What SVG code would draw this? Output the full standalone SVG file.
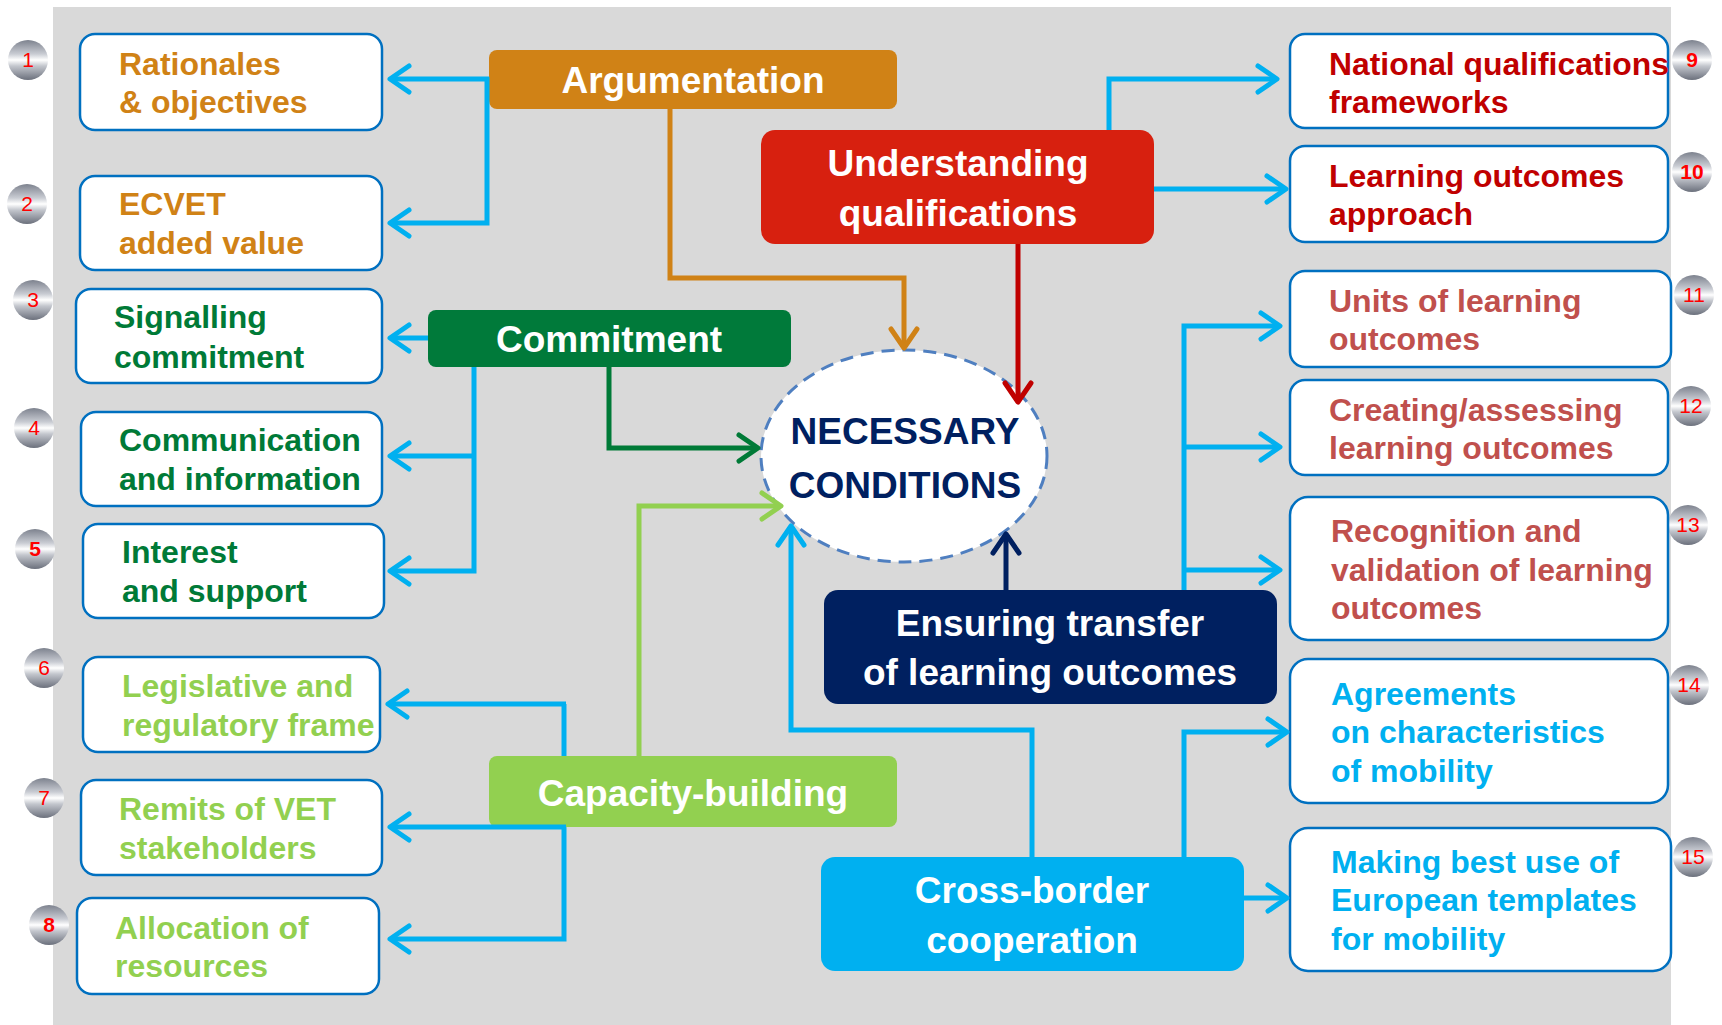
<svg xmlns="http://www.w3.org/2000/svg" width="1722" height="1025" viewBox="0 0 1722 1025">
<style>
.bg{fill:#d9d9d9}
.box{fill:#ffffff;stroke:#0070c0;stroke-width:2.5}
.t{font-family:"Liberation Sans",Arial,sans-serif;font-weight:bold;font-size:32px}
.c{font-family:"Liberation Sans",Arial,sans-serif;font-weight:bold;font-size:37px;fill:#ffffff;text-anchor:middle}
.or{fill:#d08216}.gr{fill:#007a37}.lg{fill:#92d050}.dr{fill:#c00000}.lr{fill:#c0504d}.cy{fill:#00b0f0}
.num{font-family:"Liberation Sans",Arial,sans-serif;font-size:21px;fill:#ff0000;text-anchor:middle}
.badge{fill:url(#metal)}
.ln{fill:none;stroke-width:5;stroke-linejoin:miter}
.b{stroke:#00b0f0;marker-end:url(#ab)}
.bn{stroke:#00b0f0}
</style>
<defs>
<linearGradient id="metal" x1="0" y1="0" x2="0" y2="1">
<stop offset="0" stop-color="#7d828e"/>
<stop offset="0.35" stop-color="#c9ccd3"/>
<stop offset="0.5" stop-color="#ffffff"/>
<stop offset="0.65" stop-color="#c3c6cd"/>
<stop offset="1" stop-color="#6b707c"/>
</linearGradient>
<marker id="ab" markerUnits="userSpaceOnUse" viewBox="-24 -16 28 32" refX="0" refY="0" markerWidth="28" markerHeight="32" orient="auto"><path d="M-19,-13 L0,0 L-19,13" fill="none" stroke="#00b0f0" stroke-width="5" stroke-linecap="round" stroke-linejoin="round"/></marker>
<marker id="ao" markerUnits="userSpaceOnUse" viewBox="-24 -16 28 32" refX="0" refY="0" markerWidth="28" markerHeight="32" orient="auto"><path d="M-19,-13 L0,0 L-19,13" fill="none" stroke="#d08216" stroke-width="5" stroke-linecap="round" stroke-linejoin="round"/></marker>
<marker id="ar" markerUnits="userSpaceOnUse" viewBox="-24 -16 28 32" refX="0" refY="0" markerWidth="28" markerHeight="32" orient="auto"><path d="M-19,-13 L0,0 L-19,13" fill="none" stroke="#c00000" stroke-width="5" stroke-linecap="round" stroke-linejoin="round"/></marker>
<marker id="ag" markerUnits="userSpaceOnUse" viewBox="-24 -16 28 32" refX="0" refY="0" markerWidth="28" markerHeight="32" orient="auto"><path d="M-19,-13 L0,0 L-19,13" fill="none" stroke="#007a37" stroke-width="5" stroke-linecap="round" stroke-linejoin="round"/></marker>
<marker id="al" markerUnits="userSpaceOnUse" viewBox="-24 -16 28 32" refX="0" refY="0" markerWidth="28" markerHeight="32" orient="auto"><path d="M-19,-13 L0,0 L-19,13" fill="none" stroke="#92d050" stroke-width="5" stroke-linecap="round" stroke-linejoin="round"/></marker>
<marker id="an" markerUnits="userSpaceOnUse" viewBox="-24 -16 28 32" refX="0" refY="0" markerWidth="28" markerHeight="32" orient="auto"><path d="M-19,-13 L0,0 L-19,13" fill="none" stroke="#002060" stroke-width="5" stroke-linecap="round" stroke-linejoin="round"/></marker>
</defs>
<rect x="0" y="0" width="1722" height="1025" fill="#ffffff"/>
<rect class="bg" x="53" y="7" width="1618" height="1018"/>

<g id="badges">
<circle class="badge" cx="28" cy="60" r="20"/><text class="num" x="28" y="67">1</text>
<circle class="badge" cx="27" cy="204" r="20"/><text class="num" x="27" y="211">2</text>
<circle class="badge" cx="33" cy="300" r="20"/><text class="num" x="33" y="307">3</text>
<circle class="badge" cx="34" cy="428" r="20"/><text class="num" x="34" y="435">4</text>
<circle class="badge" cx="35" cy="549" r="20"/><text class="num" x="35" y="556" font-weight="bold">5</text>
<circle class="badge" cx="44" cy="668" r="20"/><text class="num" x="44" y="675">6</text>
<circle class="badge" cx="44" cy="798" r="20"/><text class="num" x="44" y="805">7</text>
<circle class="badge" cx="49" cy="925" r="20"/><text class="num" x="49" y="932" font-weight="bold">8</text>
<circle class="badge" cx="1692" cy="60" r="20"/><text class="num" x="1692" y="67" font-weight="bold">9</text>
<circle class="badge" cx="1692" cy="172" r="20"/><text class="num" x="1692" y="179" font-weight="bold">10</text>
<circle class="badge" cx="1694" cy="295" r="20"/><text class="num" x="1694" y="302">11</text>
<circle class="badge" cx="1691" cy="406" r="20"/><text class="num" x="1691" y="413">12</text>
<circle class="badge" cx="1688" cy="525" r="20"/><text class="num" x="1688" y="532">13</text>
<circle class="badge" cx="1689" cy="685" r="20"/><text class="num" x="1689" y="692">14</text>
<circle class="badge" cx="1693" cy="857" r="20"/><text class="num" x="1693" y="864">15</text>
</g>

<g id="n1"><rect class="box" x="80" y="34" width="302" height="96" rx="15"/><text class="t or" x="119" y="75">Rationales</text><text class="t or" x="119" y="113">&amp; objectives</text></g>
<g id="n2"><rect class="box" x="80" y="176" width="302" height="94" rx="15"/><text class="t or" x="119" y="215">ECVET</text><text class="t or" x="119" y="254">added value</text></g>
<g id="n3"><rect class="box" x="76" y="289" width="306" height="94" rx="15"/><text class="t gr" x="114" y="328">Signalling</text><text class="t gr" x="114" y="368">commitment</text></g>
<g id="n4"><rect class="box" x="81" y="412" width="301" height="94" rx="15"/><text class="t gr" x="119" y="451">Communication</text><text class="t gr" x="119" y="490">and information</text></g>
<g id="n5"><rect class="box" x="83" y="524" width="301" height="94" rx="15"/><text class="t gr" x="122" y="563">Interest</text><text class="t gr" x="122" y="602">and support</text></g>
<g id="n6"><rect class="box" x="83" y="657" width="297" height="95" rx="15"/><text class="t lg" x="122" y="697">Legislative and</text><text class="t lg" x="122" y="736">regulatory frame</text></g>
<g id="n7"><rect class="box" x="81" y="780" width="301" height="95" rx="15"/><text class="t lg" x="119" y="820">Remits of VET</text><text class="t lg" x="119" y="859">stakeholders</text></g>
<g id="n8"><rect class="box" x="77" y="898" width="302" height="96" rx="15"/><text class="t lg" x="115" y="939">Allocation of</text><text class="t lg" x="115" y="977">resources</text></g>

<g id="n9"><rect class="box" x="1290" y="34" width="378" height="94" rx="15"/><text class="t dr" x="1329" y="75" textLength="340" lengthAdjust="spacingAndGlyphs">National qualifications</text><text class="t dr" x="1329" y="113">frameworks</text></g>
<g id="n10"><rect class="box" x="1290" y="146" width="378" height="96" rx="15"/><text class="t dr" x="1329" y="187">Learning outcomes</text><text class="t dr" x="1329" y="225">approach</text></g>
<g id="n11"><rect class="box" x="1290" y="271" width="381" height="96" rx="15"/><text class="t lr" x="1329" y="312">Units of learning</text><text class="t lr" x="1329" y="350">outcomes</text></g>
<g id="n12"><rect class="box" x="1290" y="380" width="378" height="95" rx="15"/><text class="t lr" x="1329" y="421">Creating/assessing</text><text class="t lr" x="1329" y="459">learning outcomes</text></g>
<g id="n13"><rect class="box" x="1290" y="497" width="378" height="143" rx="18"/><text class="t lr" x="1331" y="542">Recognition and</text><text class="t lr" x="1331" y="581">validation of learning</text><text class="t lr" x="1331" y="619">outcomes</text></g>
<g id="n14"><rect class="box" x="1290" y="659" width="378" height="144" rx="18"/><text class="t cy" x="1331" y="705">Agreements</text><text class="t cy" x="1331" y="743">on characteristics</text><text class="t cy" x="1331" y="782">of mobility</text></g>
<g id="n15"><rect class="box" x="1290" y="828" width="381" height="143" rx="18"/><text class="t cy" x="1331" y="873">Making best use of</text><text class="t cy" x="1331" y="911">European templates</text><text class="t cy" x="1331" y="950">for mobility</text></g>

<g id="argumentation"><rect x="489" y="50" width="408" height="59" rx="8" fill="#d08216"/><text class="c" x="693" y="93">Argumentation</text></g>
<g id="understanding"><rect x="761" y="130" width="393" height="114" rx="14" fill="#d7200f"/><text class="c" x="958" y="176">Understanding</text><text class="c" x="958" y="226">qualifications</text></g>
<g id="commitment"><rect x="428" y="310" width="363" height="57" rx="8" fill="#007a3a"/><text class="c" x="609" y="352">Commitment</text></g>
<g id="ensuring"><rect x="824" y="590" width="453" height="114" rx="14" fill="#002060"/><text class="c" x="1050" y="636">Ensuring transfer</text><text class="c" x="1050" y="685">of learning outcomes</text></g>
<g id="capacity"><rect x="489" y="756" width="408" height="71" rx="8" fill="#92d050"/><text class="c" x="693" y="806">Capacity-building</text></g>
<g id="crossborder"><rect x="821" y="857" width="423" height="114" rx="14" fill="#00b0f0"/><text class="c" x="1032" y="903">Cross-border</text><text class="c" x="1032" y="953">cooperation</text></g>

<g id="necessary"><ellipse cx="904" cy="456" rx="143" ry="106" fill="#ffffff" stroke="#4f7fc0" stroke-width="3" stroke-dasharray="13 8"/><text class="c" x="905" y="444" style="fill:#002060">NECESSARY</text><text class="c" x="905" y="498" style="fill:#002060">CONDITIONS</text></g>

<g id="connectors">
<path class="ln b" d="M489,79 L390,79"/>
<path class="ln b" d="M487,77 L487,223 L390,223"/>
<path class="ln b" d="M428,338 L390,338"/>
<path class="ln b" d="M474,367 L474,571 L390,571"/>
<path class="ln b" d="M474,456 L390,456"/>
<path class="ln bn" d="M564,756 L564,704"/>
<path class="ln b" d="M566,704 L388,704"/>
<path class="ln b" d="M566,827 L390,827"/>
<path class="ln b" d="M564,827 L564,939 L390,939"/>
<path class="ln b" d="M1109,130 L1109,79 L1277,79"/>
<path class="ln b" d="M1154,189 L1286,189"/>
<path class="ln b" d="M1184,590 L1184,326 L1280,326"/>
<path class="ln b" d="M1184,447 L1280,447"/>
<path class="ln b" d="M1184,570 L1280,570"/>
<path class="ln b" d="M1184,857 L1184,732 L1287,732"/>
<path class="ln b" d="M1244,898 L1287,898"/>
<path class="ln b" d="M1032,857 L1032,730 L791,730 L791,526"/>
<path class="ln" stroke="#d08216" marker-end="url(#ao)" d="M670,109 L670,278 L904,278 L904,348"/>
<path class="ln" stroke="#c00000" marker-end="url(#ar)" d="M1018,244 L1018,402"/>
<path class="ln" stroke="#007a37" marker-end="url(#ag)" d="M609,367 L609,448 L758,448"/>
<path class="ln" stroke="#92d050" marker-end="url(#al)" d="M639,756 L639,506 L781,506"/>
<path class="ln" stroke="#002060" marker-end="url(#an)" d="M1006,590 L1006,534"/>
</g>
<text x="1700" y="998" font-family="Liberation Sans, Arial, sans-serif" font-weight="bold" font-size="28" fill="#ffffff" text-anchor="middle">24</text>
</svg>
